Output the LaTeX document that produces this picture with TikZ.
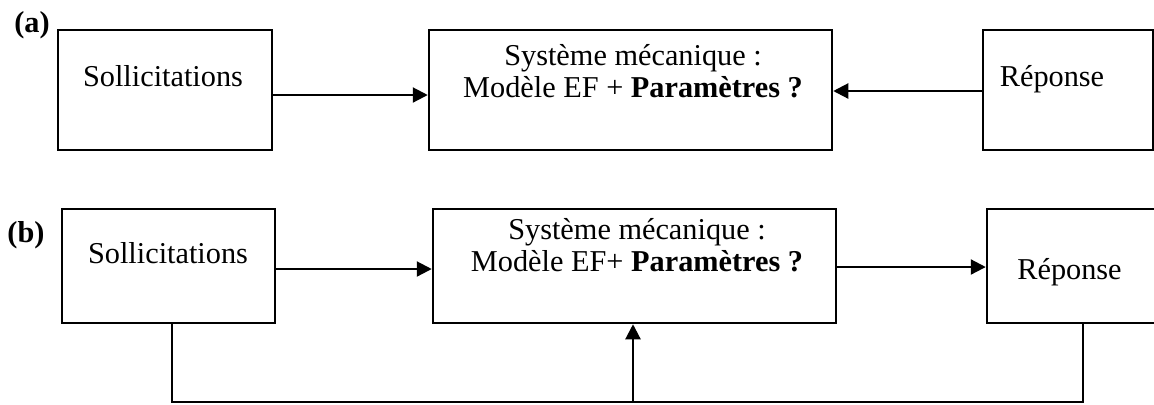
\documentclass[tikz,border=0pt]{standalone}
\usepackage{fontspec}
\setmainfont{Liberation Serif}
\usetikzlibrary{arrows.meta}
\begin{document}
\begin{tikzpicture}[x=0.5pt,y=-0.5pt,line width=1.1pt]
    \tikzstyle{box}=[draw,rectangle,inner sep=0pt,line width=1.25pt];
    \tikzstyle{txt}=[inner sep=0pt,anchor=base,align=center,font=\fontsize{15.15}{16}\selectfont];
    \tikzstyle{tag}=[inner sep=0pt,anchor=base,font=\fontsize{15.15}{16}\selectfont\bfseries];
    \tikzstyle{arr}=[-{Triangle[length=7.5pt,width=7.5pt]}];
    \useasboundingbox (0, 0) rectangle (1154, 404);
    \clip (0, 0) rectangle (1154, 404);

    % (a)
    \node at (32, 32)     (tagA) [tag] {(a)};
    \node at (165, 90)    (solA) [box,minimum width=107pt,minimum height=60pt] {};
    \node at (630.5, 90)  (sysA) [box,minimum width=201.5pt,minimum height=60pt] {};
    \node at (1068, 90)   (repA) [box,minimum width=85pt,minimum height=60pt] {};
    \node at (163, 86)    (solAtxt) [txt] {Sollicitations};
    \node at (633, 97)    (sysAtxt) [txt] {Système mécanique :\\Modèle EF + \textbf{Paramètres ?}};
    \node at (1052, 86)   (repAtxt) [txt] {Réponse};

    \draw[arr] ([yshift=-2.5pt]solA.east) -- ([yshift=-2.5pt]sysA.west);
    \draw[arr] ([yshift=-0.5pt]repA.west) -- ([yshift=-0.5pt]sysA.east);

    % (b)
    \node at (26, 242)    (tagB) [tag] {(b)};
    \node at (168.5, 266) (solB) [box,minimum width=106.5pt,minimum height=57pt] {};
    \node at (634.5, 266) (sysB) [box,minimum width=201.5pt,minimum height=57pt] {};
    \node at (1078.5, 266) (repB) [box,minimum width=91.5pt,minimum height=57pt] {};
    \node at (168, 263)   (solBtxt) [txt] {Sollicitations};
    \node at (637, 271)   (sysBtxt) [txt] {Système mécanique :\\Modèle EF+ \textbf{Paramètres ?}};
    \node at (1069.5, 279) (repBtxt) [txt] {Réponse};

    \coordinate (fbL) at (172, 402);
    \coordinate (fbM) at (633, 402);
    \coordinate (fbR) at (1083, 402);

    \draw[arr] ([yshift=-1.5pt]solB.east) -- ([yshift=-1.5pt]sysB.west);
    \draw[arr] ([yshift=-0.5pt]sysB.east) -- ([yshift=-0.5pt]repB.west);
    \draw (fbL |- solB.south) -- (fbL) -- (fbR) -- (fbR |- repB.south);
    \draw[arr] (fbM) -- (fbM |- sysB.south);
\end{tikzpicture}
\end{document}
